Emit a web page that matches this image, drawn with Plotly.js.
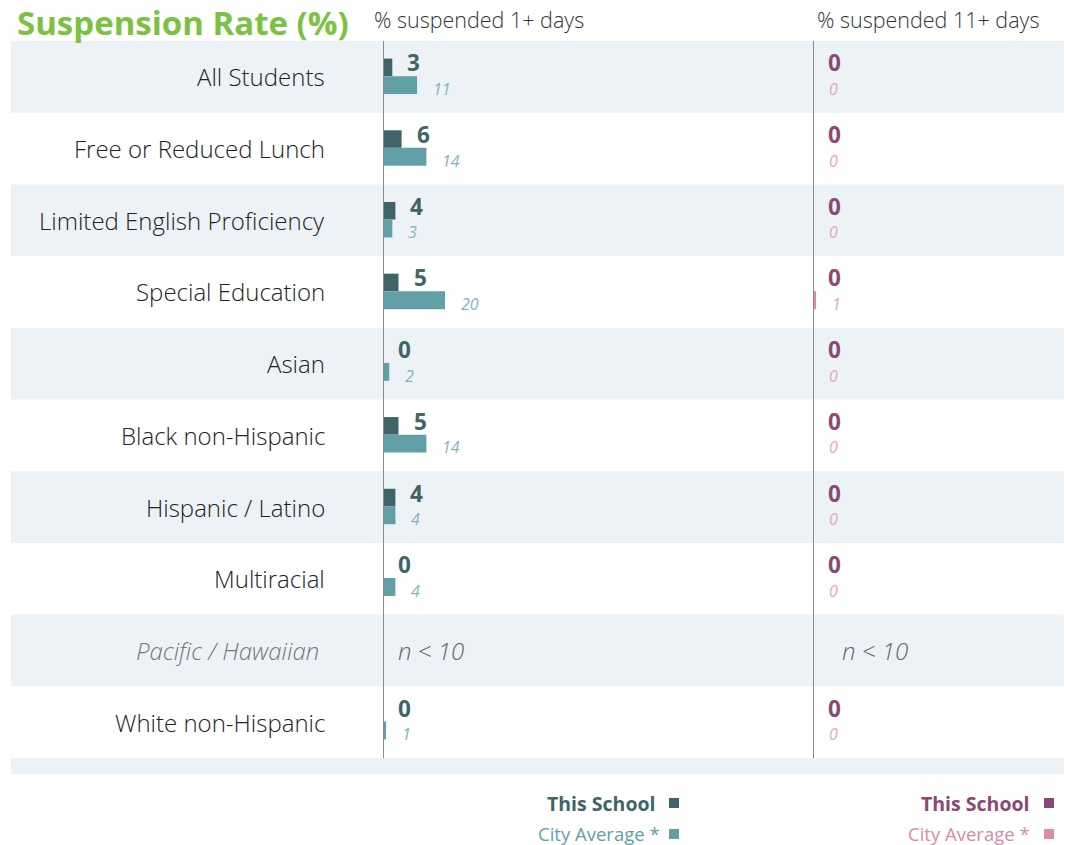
<!DOCTYPE html>
<html>
<head>
<meta charset="utf-8">
<script src="https://cdn.plot.ly/plotly-3.0.1.min.js"></script>
<style>html,body{margin:0;padding:0;background:#fff;}#chart{width:1068px;height:845px;}</style>
</head>
<body>
<div id="chart"></div>
<script>
const categories = ["All Students","Free or Reduced Lunch","Limited English Proficiency","Special Education","Asian","Black non-Hispanic","Hispanic / Latino","Multiracial","Pacific / Hawaiian","White non-Hispanic"];
const school1 = [3,6,4,5,0,5,4,0,null,0];
const city1 = [11,14,3,20,2,14,4,4,null,1];
const school11 = [0,0,0,0,0,0,0,0,null,0];
const city11 = [0,0,0,1,0,0,0,0,null,0];
const suppressed = ["Pacific / Hawaiian"];
const panelTitles = ["% suspended 1+ days","% suspended 11+ days"];
const chartTitle = "Suspension Rate (%)";
const legendLabels = ["This School","City Average *"];
const suppressedText = "n < 10";

const W = 1068, H = 845;
const FONT = "Open Sans, Noto Sans, sans-serif";
const C = {
  school1: "#3e6567", city1: "#62a0a7",
  school11: "#8b4775", city11: "#dd8ca8",
  city1Text: "#7fb6bc", city11Text: "#e5a5bd", city11Legend: "#d98aa7",
  band: "#edf2f6", axis: "#8a8a8a", green: "#7cc242"
};
const pxPerUnit = 3.1;
const x1L = 383, x1R = 800, x2L = 813, x2R = 1064;
const yTop = 41, yBot = 774;
const rowH = 71.65;

function bar(vals, axis, color, offset, width) {
  return {
    type: "bar", orientation: "h", y: categories, x: vals,
    xaxis: axis, yaxis: "y", offset: offset, width: width,
    marker: {color: color, line: {width: 0}}, hoverinfo: "skip"
  };
}
const traces = [
  bar(school1, "x", C.school1, -0.255, 0.245),
  bar(city1, "x", C.city1, -0.01, 0.25),
  bar(school11, "x2", C.school11, -0.255, 0.245),
  bar(city11, "x2", C.city11, -0.01, 0.25)
];

const shapes = [];
categories.forEach((c, i) => {
  if (i % 2 === 0) shapes.push({type: "rect", xref: "paper", yref: "y", x0: 11/W, x1: 1064/W, y0: i - 0.5, y1: i + 0.5, fillcolor: C.band, line: {width: 0}, layer: "below"});
});
shapes.push({type: "rect", xref: "paper", yref: "y", x0: 11/W, x1: 1064/W, y0: categories.length - 0.5, y1: categories.length - 0.5 + 16/rowH, fillcolor: C.band, line: {width: 0}, layer: "below"});
["x", "x2"].forEach(ax => shapes.push({type: "line", xref: ax, yref: "y", x0: 0, x1: 0, y0: -0.5, y1: categories.length - 0.5, line: {color: C.axis, width: 2}, layer: "above"}));

const ann = [];
ann.push({xref: "paper", yref: "paper", x: 15/W, y: 1 - 22/H, xanchor: "left", yanchor: "middle", showarrow: false, text: "<b>" + chartTitle + "</b>", font: {family: FONT, size: 33, color: C.green, weight: 800}});
ann.push({xref: "paper", yref: "paper", x: 372/W, y: 1 - 19/H, xanchor: "left", yanchor: "middle", showarrow: false, text: panelTitles[0], font: {family: FONT, size: 21.5, color: "#333", weight: 300}});
ann.push({xref: "paper", yref: "paper", x: 815/W, y: 1 - 19/H, xanchor: "left", yanchor: "middle", showarrow: false, text: panelTitles[1], font: {family: FONT, size: 21.5, color: "#333", weight: 300}});

categories.forEach((c, i) => {
  const sup = suppressed.includes(c);
  ann.push({xref: "paper", yref: "y", x: (sup ? 321 : 327)/W, y: c, xanchor: "right", yanchor: "middle", showarrow: false,
    text: sup ? "<i>" + c + "</i>" : c,
    font: {family: FONT, size: 24, color: sup ? "#777" : "#222", weight: 300}});
  if (sup) {
    ann.push({xref: "x", yref: "y", x: 0, y: c, xanchor: "left", yanchor: "middle", xshift: 13, showarrow: false, text: "<i>" + suppressedText + "</i>", font: {family: FONT, size: 24, color: "#666", weight: 300}});
    ann.push({xref: "x2", yref: "y", x: 0, y: c, xanchor: "left", yanchor: "middle", xshift: 27, showarrow: false, text: "<i>" + suppressedText + "</i>", font: {family: FONT, size: 24, color: "#666", weight: 300}});
    return;
  }
  [["x", school1, city1, C.school1, C.city1Text], ["x2", school11, city11, C.school11, C.city11Text]].forEach(p => {
    const [ax, s, cv, sc, cc] = p;
    ann.push({xref: ax, yref: "y", x: s[i], y: c, xanchor: "left", yanchor: "middle", xshift: 13, yshift: 14, showarrow: false, text: "<b>" + s[i] + "</b>", font: {family: FONT, size: 22.5, color: sc, weight: 800}});
    ann.push({xref: ax, yref: "y", x: cv[i], y: c, xanchor: "left", yanchor: "middle", xshift: 14, yshift: -12, showarrow: false, text: "<i>" + cv[i] + "</i>", font: {family: FONT, size: 16, color: cc}});
  });
});

// legends
const legends = [
  {right: [658, 662], sq: 669, colors: [C.school1, C.city1], textColors: [C.school1, C.city1]},
  {right: [1032, 1032], sq: 1044, colors: [C.school11, C.city11], textColors: [C.school11, C.city11Legend]}
];
legends.forEach(L => {
  [[803, 803], [833, 834]].forEach((yy, k) => {
    const [yt, ys] = yy;
    ann.push({xref: "paper", yref: "paper", x: L.right[k]/W, y: 1 - yt/H, xanchor: "right", yanchor: "middle", showarrow: false,
      text: k === 0 ? "<b>" + legendLabels[0] + "</b>" : legendLabels[1],
      font: {family: FONT, size: k === 0 ? 19.5 : 18.5, color: L.textColors[k], weight: k === 0 ? 800 : 400}});
    shapes.push({type: "rect", xref: "paper", yref: "paper", x0: L.sq/W, x1: (L.sq + 10)/W, y0: 1 - (ys + 5)/H, y1: 1 - (ys - 5)/H, fillcolor: L.colors[k], line: {width: 0}});
  });
});

const hiddenAx = {showgrid: false, zeroline: false, showline: false, showticklabels: false, ticks: "", fixedrange: true};
const layout = {
  width: W, height: H, margin: {l: 0, r: 0, t: 0, b: 0},
  paper_bgcolor: "#fff", plot_bgcolor: "rgba(0,0,0,0)",
  showlegend: false, barmode: "overlay",
  xaxis: Object.assign({domain: [x1L/W, x1R/W], range: [0, (x1R - x1L)/pxPerUnit], anchor: "y"}, hiddenAx),
  xaxis2: Object.assign({domain: [x2L/W, x2R/W], range: [0, (x2R - x2L)/pxPerUnit], anchor: "y"}, hiddenAx),
  yaxis: Object.assign({domain: [1 - yBot/H, 1 - yTop/H], type: "category", categoryorder: "array", categoryarray: categories, range: [categories.length - 0.5 + 16/rowH, -0.5], anchor: "x"}, hiddenAx),
  shapes: shapes, annotations: ann
};
Plotly.newPlot("chart", traces, layout, {staticPlot: true, displayModeBar: false});
</script>
</body>
</html>
